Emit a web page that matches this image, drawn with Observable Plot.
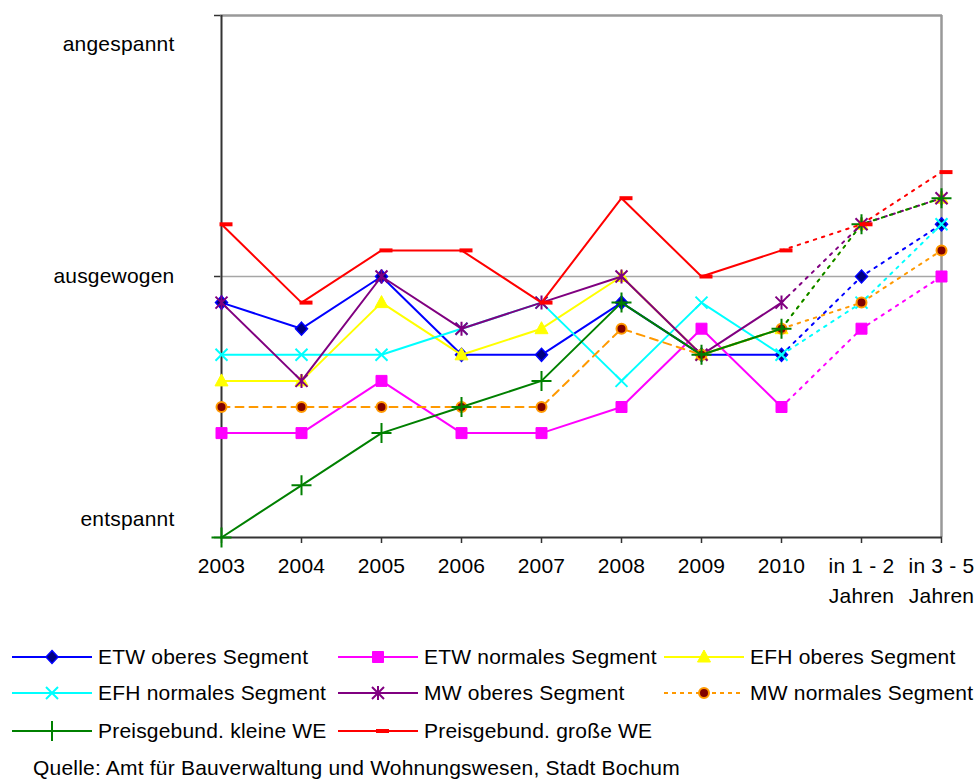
<!DOCTYPE html>
<html><head><meta charset="utf-8">
<script src="https://cdn.jsdelivr.net/npm/d3@7"></script>
<script src="https://cdn.jsdelivr.net/npm/@observablehq/plot@0.6"></script>
<style>
body{margin:0;background:#fff;font-family:"Liberation Sans",Arial,sans-serif;}
#legend text{font-size:21px;letter-spacing:0.2px;fill:#000;}
</style></head><body><div id="chart"></div><div id="legend"></div><script>
// ---- data ----
const categories = ["2003","2004","2005","2006","2007","2008","2009","2010","in 1 - 2 Jahren","in 3 - 5 Jahren"];
const forecastStart = 7; // index of "2010": solid before, dotted after
const yTickValues = [-10, 0, 10];
const yLabelValues = [8.9, 0, -9.3];
const yLabelTexts = ["angespannt", "ausgewogen", "entspannt"];
const seriesNames = ["ETW oberes Segment","ETW normales Segment","EFH oberes Segment","EFH normales Segment","MW oberes Segment","MW normales Segment","Preisgebund. kleine WE","Preisgebund. große WE"];
const etwOberes   = [-1,-2, 0,-3,-3,-1,-3,-3, 0, 2];
const etwNormales = [-6,-6,-4,-6,-6,-5,-2,-5,-2, 0];
const efhOberes   = [-4,-4,-1,-3,-2, 0,-3,-2, 2, 3];
const efhNormales = [-3,-3,-3,-2,-1,-4,-1,-3,-1, 2];
const mwOberes    = [-1,-4, 0,-2,-1, 0,-3,-1, 2, 3];
const mwNormales  = [-5,-5,-5,-5,-5,-2,-3,-2,-1, 1];
const preisKlein  = [-10,-8,-6,-5,-4,-1,-3,-2, 2, 3];
const preisGross  = [ 2,-1, 1, 1,-1, 3, 0, 1, 2, 4];
const seriesValues = [etwOberes, etwNormales, efhOberes, efhNormales, mwOberes, mwNormales, preisKlein, preisGross];
const caption = "Quelle: Amt für Bauverwaltung und Wohnungswesen, Stadt Bochum";

// ---- marker shapes ----
const sym = fn => ({draw(ctx){ fn(ctx); }});
const symbols = {
  diamond: sym(c => {c.moveTo(0,-6.5);c.lineTo(6,0);c.lineTo(0,6.5);c.lineTo(-6,0);c.closePath();}),
  square: sym(c => {c.moveTo(-5.5,-5.5);c.lineTo(5.5,-5.5);c.lineTo(5.5,5.5);c.lineTo(-5.5,5.5);c.closePath();}),
  triangle: sym(c => {c.moveTo(0,-7);c.lineTo(6.5,5);c.lineTo(-6.5,5);c.closePath();}),
  times: sym(c => {c.moveTo(-6,-6);c.lineTo(6,6);c.moveTo(6,-6);c.lineTo(-6,6);}),
  asterisk: sym(c => {c.moveTo(0,-7);c.lineTo(0,7);c.moveTo(-6,-6);c.lineTo(6,6);c.moveTo(6,-6);c.lineTo(-6,6);}),
  circle: sym(c => {c.moveTo(5,0);c.arc(0,0,5,0,2*Math.PI);}),
  plus: sym(c => {c.moveTo(-10,0);c.lineTo(10,0);c.moveTo(0,-10);c.lineTo(0,10);}),
  dash: sym(c => {c.moveTo(-2,-2);c.lineTo(11,-2);c.lineTo(11,2);c.lineTo(-2,2);c.closePath();})
};
const styles = [
  {color:"#0000ff", symbol:"diamond", fill:"#000080", stroke:"#0000ff", sw:1.5, dash:null},
  {color:"#ff00ff", symbol:"square", fill:"#ff00ff", stroke:"#ff00ff", sw:1, dash:null},
  {color:"#ffff00", symbol:"triangle", fill:"#ffff00", stroke:"#ffff00", sw:1, dash:null},
  {color:"#00ffff", symbol:"times", fill:"none", stroke:"#00ffff", sw:2, dash:null},
  {color:"#800080", symbol:"asterisk", fill:"none", stroke:"#800080", sw:2, dash:null},
  {color:"#ff9900", symbol:"circle", fill:"#800000", stroke:"#ff9900", sw:2, dash:"8,6"},
  {color:"#008000", symbol:"plus", fill:"none", stroke:"#008000", sw:2, dash:null},
  {color:"#ff0000", symbol:"dash", fill:"#ff0000", stroke:"none", sw:0, dash:null}
];

// ---- table ----
const rows = seriesValues.map(vals => vals.map((v,i) => ({cat: categories[i], idx: i, value: v})));

const marks = [
  Plot.ruleY([0], {stroke:"#a6a6a6", strokeWidth:1.5}),
  Plot.ruleY([yTickValues[2]], {stroke:"#999", strokeWidth:2.5}),
  Plot.ruleX([categories[categories.length-1]], {stroke:"#999", strokeWidth:2.5}),
  Plot.ruleX([categories[0]], {stroke:"#333", strokeWidth:2}),
  Plot.ruleY([yTickValues[0]], {stroke:"#333", strokeWidth:2}),
  Plot.axisY(yTickValues, {tickSize:6, tickFormat: () => "", stroke:"#333", strokeWidth:1.5}),
  Plot.axisY(yLabelValues, {tickSize:0, tickPadding:46, tickFormat: d => yLabelTexts[yLabelValues.indexOf(d)], fontSize:21}),
  Plot.axisX({tickSize:6, tickPadding:8, stroke:"#333", strokeWidth:1.5, fontSize:21, lineHeight:1.43,
    tickFormat: d => d.replace(" Jahren", "\nJahren")})
];
rows.forEach((data, s) => {
  const st = styles[s];
  marks.push(Plot.line(data.filter(d => d.idx <= forecastStart), {x:"cat", y:"value", stroke:st.color, strokeWidth:2, strokeDasharray: st.dash, curve:"linear"}));
  marks.push(Plot.line(data.filter(d => d.idx >= forecastStart), {x:"cat", y:"value", stroke:st.color, strokeWidth:2, strokeDasharray:"2.5,6", curve:"linear"}));
  marks.push(Plot.dot(data, {x:"cat", y:"value", symbol: symbols[st.symbol], r:5, fill:st.fill, stroke:st.stroke, strokeWidth:st.sw, fillOpacity:1}));
});

const chart = Plot.plot({
  width: 978, height: 615,
  marginLeft: 220, marginRight: 36, marginTop: 15, marginBottom: 78,
  style: {fontFamily:'"Liberation Sans", Arial, sans-serif', fontSize:"21px", letterSpacing:"0.2px", color:"#000", background:"#fff", overflow:"visible"},
  x: {type:"point", domain: categories, padding:0, label:null, axis:null},
  y: {domain:[-10,10], label:null, axis:null},
  marks
});
document.getElementById("chart").appendChild(chart);

// ---- legend ----
const lg = d3.select("#legend").append("svg").attr("width", 978).attr("height", 166).style("display","block");
const colX = [12, 338, 664];
const rowY = [42, 78, 116];
seriesNames.forEach((name, i) => {
  const st = styles[i];
  const x0 = colX[i % 3], y0 = rowY[Math.floor(i / 3)];
  const g = lg.append("g");
  g.append("line").attr("x1", x0).attr("x2", x0 + 80).attr("y1", y0).attr("y2", y0)
    .attr("stroke", st.color).attr("stroke-width", 2).attr("stroke-dasharray", st.dash ? "4,4" : null);
  g.append("path").attr("transform", `translate(${x0 + 40},${y0})`)
    .attr("d", d3.symbol(symbols[st.symbol])())
    .attr("fill", st.fill).attr("stroke", st.stroke).attr("stroke-width", st.sw);
  g.append("text").attr("x", x0 + 86).attr("y", y0).attr("dy", "0.35em").text(name);
});
lg.append("text").attr("x", 33).attr("y", 153).attr("dy", "0.35em").text(caption);
</script></body></html>
